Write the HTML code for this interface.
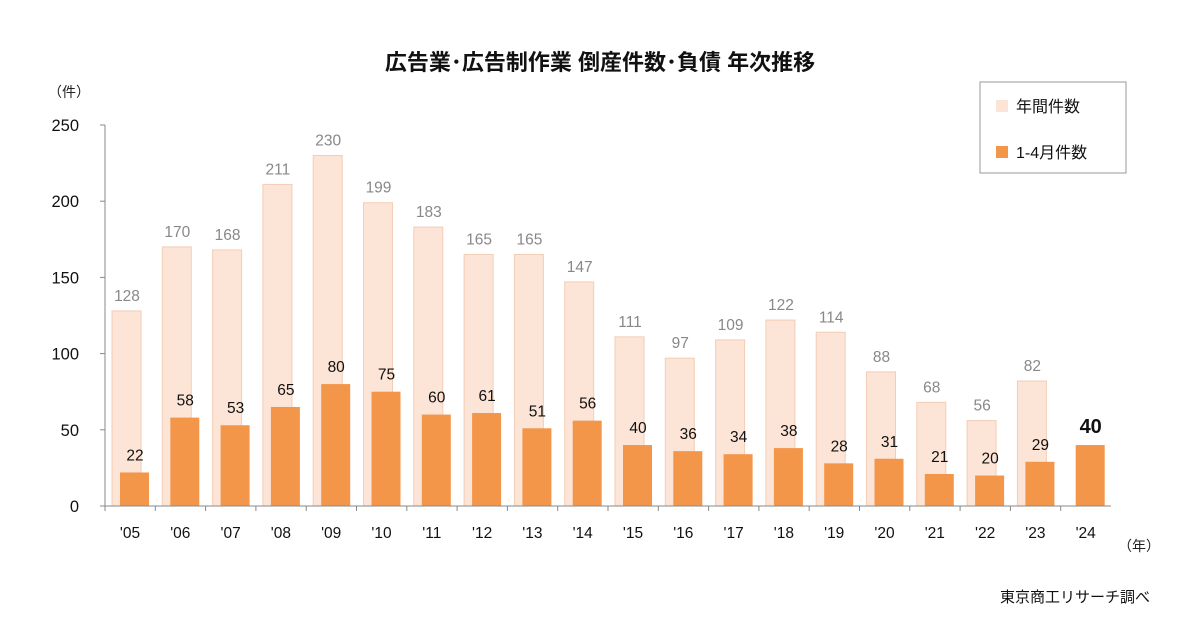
<!DOCTYPE html>
<html><head><meta charset="utf-8"><style>
body{margin:0;background:#fff;font-family:"Liberation Sans","Noto Sans CJK JP",sans-serif}
svg text{font-family:"Liberation Sans","Noto Sans CJK JP",sans-serif}
</style></head><body>
<svg id="c" width="1200" height="630" xmlns="http://www.w3.org/2000/svg">
<text x="600" y="70" text-anchor="middle" font-size="22" font-weight="bold" fill="#111">広告業･広告制作業 倒産件数･負債 年次推移</text>
<text x="48" y="97" font-size="14" fill="#222">（件）</text>
<text x="1118" y="551" font-size="14" fill="#222">（年）</text>
<text x="1150" y="602" text-anchor="end" font-size="15" fill="#111">東京商工リサーチ調べ</text>
<g>
<rect x="980" y="82" width="146" height="91" fill="#fff" stroke="#999"/>
<rect x="996" y="100" width="12" height="12" fill="#fce4d6"/>
<text x="1016" y="112" font-size="16" fill="#111">年間件数</text>
<rect x="996" y="146" width="12" height="12" fill="#f4964a"/>
<text x="1016" y="158" font-size="16" fill="#111">1-4月件数</text>
</g>
<g id="plot"></g>
</svg>
<script>
const categories=["'05","'06","'07","'08","'09","'10","'11","'12","'13","'14","'15","'16","'17","'18","'19","'20","'21","'22","'23","'24"];
const annual=[128,170,168,211,230,199,183,165,165,147,111,97,109,122,114,88,68,56,82,null];
const janApr=[22,58,53,65,80,75,60,61,51,56,40,36,34,38,28,31,21,20,29,40];
const yTicks=[0,50,100,150,200,250];
const NS="http://www.w3.org/2000/svg";
const g=document.getElementById('plot');
const x0=105,cw=50.3,y0=506,k=1.524;
const X=i=>x0+i*cw, Y=v=>y0-v*k;
function el(t,a,txt){const e=document.createElementNS(NS,t);for(const n in a)e.setAttribute(n,a[n]);if(txt!=null)e.textContent=txt;g.appendChild(e);return e;}
yTicks.forEach(v=>{
 const t=el('text',{x:79,y:Y(v)+6,'text-anchor':'end','font-size':16.5,fill:'#111'},v);
 
 
 const l=el('line',{x1:100,x2:105,y1:Y(v),y2:Y(v),stroke:'#888'});
 
 
});
categories.forEach((c,i)=>{
 if(annual[i]!=null){
  const r=el('rect',{x:X(i)+7,y:Y(annual[i]),width:29,height:annual[i]*k,fill:'#fce4d6',stroke:'#f3cdb4','stroke-width':1});
  
  
  const t=el('text',{x:X(i)+22,y:Y(annual[i])-10,'text-anchor':'middle','font-size':15.5,fill:'#888'},annual[i]);
  
  
 }
 const r2=el('rect',{x:X(i)+15,y:Y(janApr[i]),width:29,height:janApr[i]*k,fill:'#f4964a'});
 
 
 const last=i===categories.length-1;
 const t2=el('text',{x:X(i)+30,y:Y(janApr[i])-12,'text-anchor':'middle','font-size':last?20:15.5,'font-weight':last?'bold':'normal',fill:'#111'},janApr[i]);
 
 
 const xl=el('text',{x:X(i)+25,y:538,'text-anchor':'middle','font-size':15.5,fill:'#111'},c);
 
 
 const tk=el('line',{x1:X(i),x2:X(i),y1:y0,y2:y0+5,stroke:'#888'});
 
 
});
const ya=el('line',{x1:x0,x2:x0,y1:Y(250),y2:y0,stroke:'#888'});


const xa=el('line',{x1:x0,x2:X(20),y1:y0,y2:y0,stroke:'#888'});


</script>
</body></html>
